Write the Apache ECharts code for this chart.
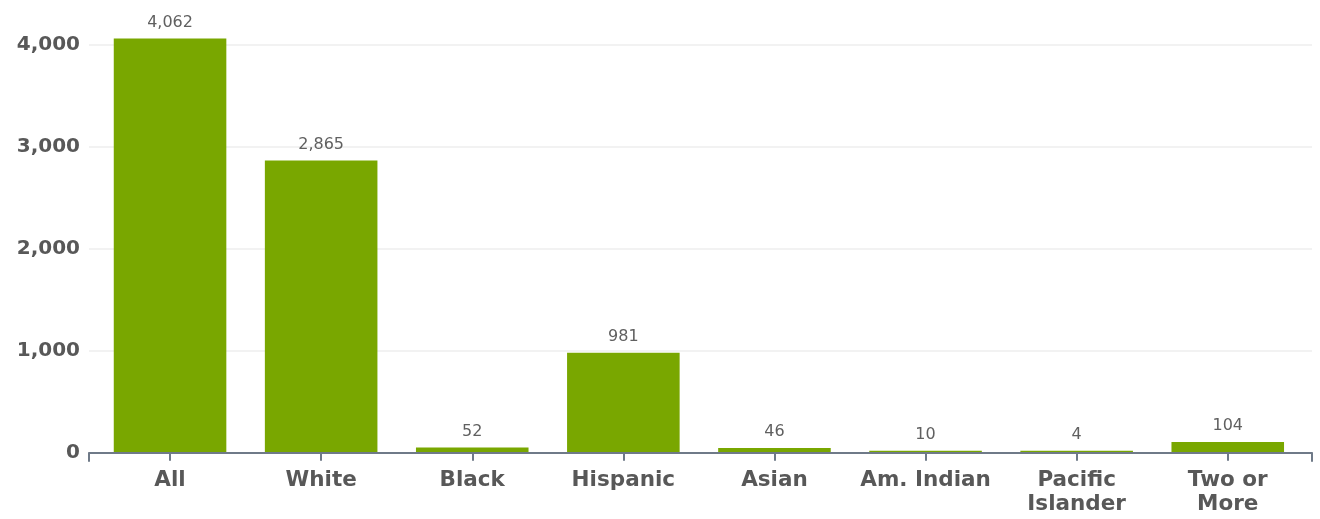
<!DOCTYPE html>
<html>
<head>
<meta charset="utf-8">
<script src="https://cdn.jsdelivr.net/npm/echarts@6/dist/echarts.min.js"></script>
<style>
  html, body { margin: 0; padding: 0; background: #ffffff; }
  #chart { width: 1320px; height: 519px; }
</style>
</head>
<body>
<div id="chart"></div>
<script>
// Population by race / ethnicity
const categories = ['All', 'White', 'Black', 'Hispanic', 'Asian', 'Am. Indian', 'Pacific\nIslander', 'Two or\nMore'];
const values = [4062, 2865, 52, 981, 46, 10, 4, 104];
const yTicks = [0, 1000, 2000, 3000, 4000];

const textColor = '#585858';
const axisColor = '#6f7a88';
const barColor = '#79a700';
const fontFamily = '"DejaVu Sans", sans-serif';

const chart = echarts.init(document.getElementById('chart'), null, { renderer: 'canvas' });

const yMin = yTicks[0];
const yMax = yTicks[yTicks.length - 1];
const yStep = yTicks[1] - yTicks[0];

chart.setOption({
  animation: false,
  backgroundColor: '#ffffff',
  grid: [
    // plotting band for the bars
    { left: 94.5, right: 16.7, top: 44.7, bottom: 66.3 },
    // full-width frame: axis line, end ticks, gridlines, value labels
    { left: 89, right: 8, top: 44.7, bottom: 66.3 }
  ],
  xAxis: [
    {
      gridIndex: 0,
      type: 'category',
      data: categories,
      axisLine: { show: false },
      axisTick: {
        show: true,
        alignWithLabel: true,
        length: 8,
        lineStyle: { color: axisColor, width: 2 }
      },
      axisLabel: {
        color: textColor,
        fontFamily: fontFamily,
        fontWeight: 'bold',
        fontSize: 21.5,
        lineHeight: 24.5,
        margin: 15,
        interval: 0
      },
      splitLine: { show: false }
    },
    {
      gridIndex: 1,
      type: 'value',
      min: 0,
      max: 1,
      interval: 1,
      z: 5,
      axisLine: { show: true, lineStyle: { color: axisColor, width: 2 } },
      axisTick: { show: true, length: 9, lineStyle: { color: axisColor, width: 2 } },
      axisLabel: { show: false },
      splitLine: { show: false }
    }
  ],
  yAxis: [
    {
      gridIndex: 0,
      type: 'value',
      min: yMin,
      max: yMax,
      interval: yStep,
      show: false
    },
    {
      gridIndex: 1,
      type: 'value',
      min: yMin,
      max: yMax,
      interval: yStep,
      axisLine: { show: false },
      axisTick: { show: false },
      axisLabel: {
        color: textColor,
        fontFamily: fontFamily,
        fontWeight: 'bold',
        fontSize: 20,
        margin: 9,
        formatter: v => v.toLocaleString('en-US')
      },
      splitLine: { show: true, lineStyle: { color: '#eeeeee', width: 1.5 } }
    }
  ],
  series: [
    {
      type: 'bar',
      xAxisIndex: 0,
      yAxisIndex: 0,
      data: values,
      barWidth: '74.5%',
      barMinHeight: 2,
      clip: false,
      itemStyle: { color: barColor },
      label: {
        show: true,
        position: 'top',
        distance: 8,
        color: '#606060',
        fontFamily: fontFamily,
        fontSize: 16,
        formatter: p => p.value.toLocaleString('en-US')
      }
    }
  ]
});
</script>
</body>
</html>
